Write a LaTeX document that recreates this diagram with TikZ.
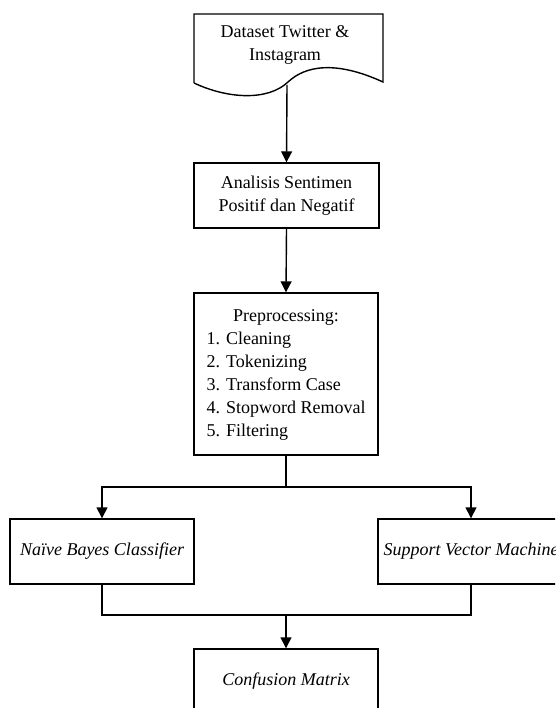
\documentclass[tikz,border=0pt]{standalone}
\usepackage{fontspec}
\setmainfont{Liberation Serif}
\usetikzlibrary{arrows.meta}
\begin{document}
\begin{tikzpicture}[x=1pt,y=-1pt,
  every node/.style={font=\fontsize{18pt}{23pt}\selectfont},
  boxnode/.style={draw=black,line width=1.4pt,rectangle,minimum width=184pt,minimum height=65pt,inner sep=0pt,align=center},
  conn/.style={line width=1.4pt,draw=black},
  arr/.style={conn,-{Triangle[width=11pt,length=11pt]}}]
\clip (0,0) rectangle (555,708);
\fill[white] (0,0) rectangle (555,708);
% document shape
\draw[line width=1.4pt] (194,83) -- (194,14) -- (383,14) -- (383,82)
  .. controls (335,60) and (305,66) .. (288,82)
  .. controls (268,101) and (228,99) .. (194,83);
\node[align=center] (doc) at (285,45) {Dataset Twitter \&\\Instagram};
\coordinate (docb) at (287,85);
\node[boxnode,minimum width=185pt] (ana) at (286.5,195.5) {Analisis Sentimen\\Positif dan Negatif};
\node[boxnode,minimum height=162pt] (pre) at (286,374) {\begin{tabular}{@{}l@{}}\multicolumn{1}{@{}c@{}}{Preprocessing:}\\1. Cleaning\\2. Tokenizing\\3. Transform Case\\4. Stopword Removal\\5. Filtering\end{tabular}};
\node[boxnode] (nb) at (102,551.5) {\itshape Naïve Bayes Classifier};
\node[boxnode,minimum width=186pt] (svm) at (471,551.5) {\itshape Support Vector Machine};
\node[boxnode] (cm) at (286,681.5) {\itshape Confusion Matrix};
\coordinate (jn) at (286,487);
\coordinate (jb) at (286,615);
\draw[arr] (docb) -- (ana.north);
\draw[arr] (ana.south) -- (pre.north);
\draw[conn] (pre.south) -- (jn);
\draw[arr] (jn) -| (nb.north);
\draw[arr] (jn) -| (svm.north);
\draw[conn] (nb.south) |- (jb);
\draw[conn] (svm.south) |- (jb);
\draw[arr] (jb) -- (cm.north);
\end{tikzpicture}
\end{document}
